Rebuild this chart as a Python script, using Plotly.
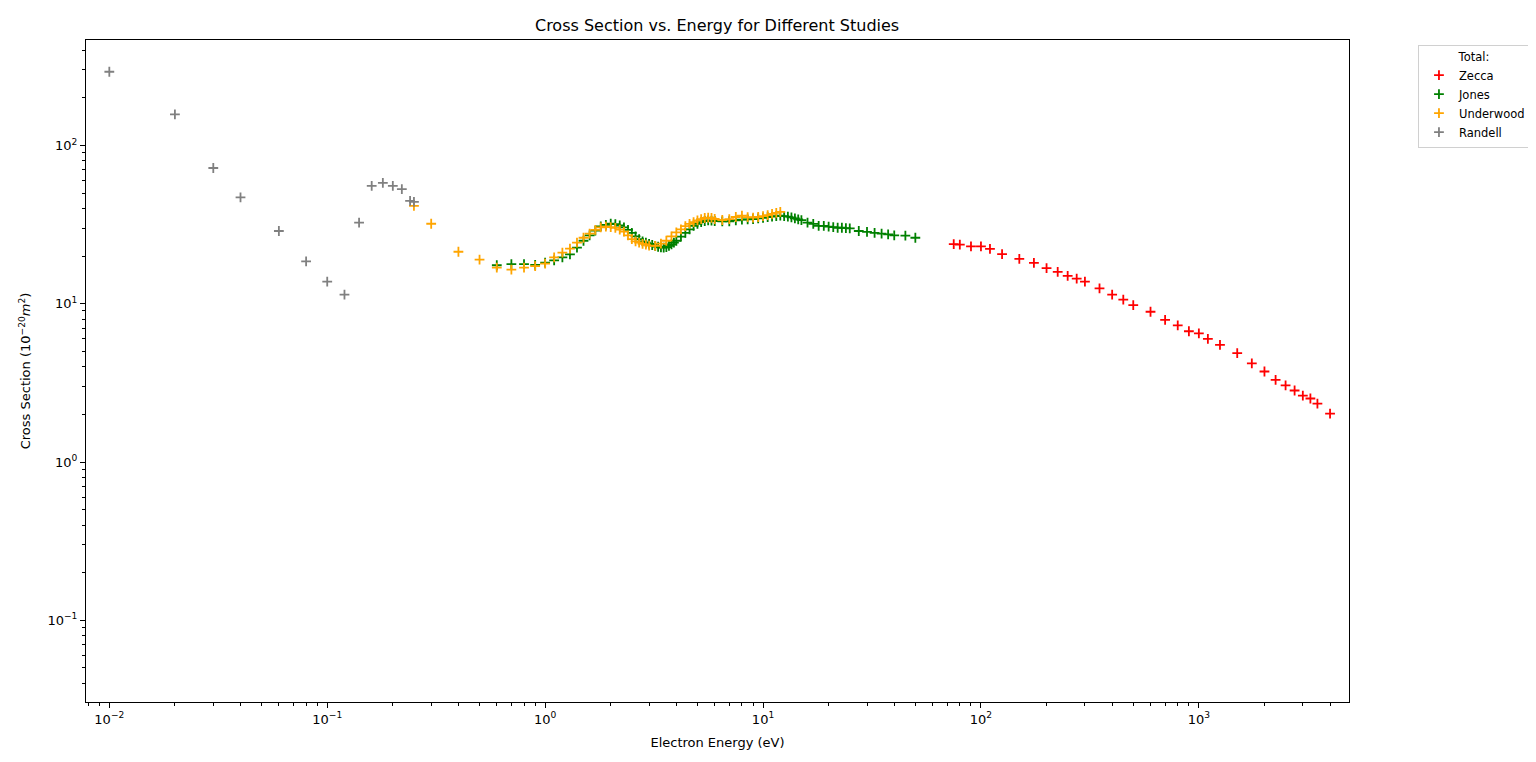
import plotly.graph_objects as go

# Randell (low energy)
randell_e = [0.01, 0.02, 0.03, 0.04, 0.06, 0.08, 0.1, 0.12, 0.14, 0.16, 0.18, 0.2, 0.22, 0.24, 0.25]
randell_cs = [292, 157, 72, 47, 28.8, 18.5, 13.8, 11.4, 32.5, 55.5, 58, 55.5, 53, 44.7, 44]

# Underwood
underwood_e = [0.25, 0.3, 0.4, 0.5, 0.6, 0.7, 0.8, 0.9, 1.0, 1.1, 1.2, 1.3, 1.4, 1.5, 1.6, 1.7, 1.8,
               1.9, 2.0, 2.1, 2.2, 2.3, 2.4, 2.5, 2.6, 2.7, 2.8, 2.9, 3.0, 3.2, 3.4, 3.6, 3.8, 4.0,
               4.2, 4.4, 4.6, 4.8, 5.0, 5.2, 5.4, 5.6, 5.8, 6.0, 6.5, 7.0, 7.5, 8.0, 8.5, 9.0, 9.5,
               10, 10.5, 11, 11.5, 12]
underwood_cs = [41.5, 32, 21.3, 19, 16.9, 16.4, 16.9, 17.3, 17.9, 19.6, 21, 22.3, 24.3, 26.1, 27.7,
                29.3, 30.4, 30.7, 30.5, 30.1, 29.4, 28.5, 27, 25.6, 24.8, 24.3, 23.9, 23.6, 23.3,
                23.2, 24, 25, 26.6, 28.2, 29.5, 30.9, 31.9, 32.8, 33.6, 34.2, 34.8, 35, 34.9, 34.3,
                33.8, 34.2, 35.3, 36, 35.2, 35, 35.3, 35.8, 36.3, 36.9, 37.5, 38]

# Jones
jones_e = [0.6, 0.7, 0.8, 0.9, 1.0, 1.1, 1.2, 1.3, 1.4, 1.5, 1.6, 1.7, 1.8, 1.9, 2.0, 2.1, 2.2, 2.3,
           2.4, 2.5, 2.6, 2.7, 2.8, 2.9, 3.0, 3.1, 3.2, 3.3, 3.4, 3.5, 3.6, 3.7, 3.8, 3.9, 4.0, 4.2,
           4.4, 4.6, 4.8, 5.0, 5.2, 5.4, 5.6, 5.8, 6.0, 6.5, 7.0, 7.5, 8.0, 8.5, 9.0, 9.5, 10, 10.5,
           11, 11.5, 12, 12.5, 13, 13.5, 14, 14.5, 15, 16, 17, 18, 19, 20, 21, 22, 23, 24, 25,
           27.5, 30, 32.5, 35, 37.5, 40, 45, 50]
jones_cs = [17.5, 17.8, 17.8, 17.6, 18.2, 18.8, 19.6, 20.5, 22.6, 25, 27, 29, 30.8, 31.5, 32, 31.8,
            31.2, 30.4, 29.3, 28, 26.6, 25.6, 24.8, 24.3, 23.9, 23.5, 23.2, 22.9, 22.7, 22.6, 22.8,
            23.2, 23.7, 24.3, 25, 26.5, 28, 29.5, 31, 32, 32.8, 33.3, 33.6, 33.5, 33.3, 33.1, 33.2,
            33.6, 34, 34.1, 34.3, 34.6, 34.9, 35.2, 35.5, 35.8, 36, 35.8, 35.5, 35.1, 34.6, 34.1,
            33.7, 32.5, 31.9, 31, 31, 30.7, 30.5, 30.2, 30.2, 30, 29.9, 28.8, 28.4, 28, 27.7, 27.4,
            27, 26.9, 26.1]

# Zecca (high energy)
zecca_e = [75, 80, 90, 100, 110, 125, 150, 175, 200, 225, 250, 275, 300, 350, 400, 450, 500, 600,
           700, 800, 900, 1000, 1100, 1250, 1500, 1750, 2000, 2250, 2500, 2750, 3000, 3250, 3500, 4000]
zecca_cs = [23.8, 23.6, 23.0, 23.0, 22.2, 20.6, 19.2, 18.1, 16.8, 15.9, 15.0, 14.4, 13.8, 12.5, 11.4,
            10.6, 9.8, 8.9, 7.9, 7.3, 6.7, 6.5, 6.0, 5.5, 4.87, 4.2, 3.73, 3.3, 3.05, 2.83, 2.63,
            2.52, 2.34, 2.02]

x_tickvals = [0.01, 0.1, 1, 10, 100, 1000]
x_ticktext = ["10<sup>−2</sup>", "10<sup>−1</sup>", "10<sup>0</sup>", "10<sup>1</sup>",
              "10<sup>2</sup>", "10<sup>3</sup>"]
y_tickvals = [0.1, 1, 10, 100]
y_ticktext = ["10<sup>−1</sup>", "10<sup>0</sup>", "10<sup>1</sup>", "10<sup>2</sup>"]

studies = [
    ("Zecca", zecca_e, zecca_cs, "red"),
    ("Jones", jones_e, jones_cs, "green"),
    ("Underwood", underwood_e, underwood_cs, "orange"),
    ("Randell", randell_e, randell_cs, "gray"),
]

fig = go.Figure()
for name, e, cs, col in studies:
    fig.add_trace(go.Scatter(
        x=e, y=cs, mode="markers", name=name,
        marker=dict(symbol="cross-thin", size=7, line=dict(width=1.8, color=col), color=col),
    ))

# minor log ticks (2..9 in every decade)
def minors(lo, hi):
    out = []
    d = lo
    while d < hi:
        for k in range(2, 10):
            out.append(k * d)
        d *= 10
    return out

axis_common = dict(
    type="log", showgrid=False, zeroline=False, showline=True, linecolor="black", linewidth=1,
    mirror=True, ticks="outside", ticklen=5, tickwidth=1, tickcolor="black", automargin=False,
    tickfont=dict(size=13, color="black"),
)

fig.update_xaxes(
    **axis_common, range=[-2.107, 3.689], tickmode="array", tickvals=x_tickvals, ticktext=x_ticktext,
    minor=dict(tickmode="array", tickvals=minors(0.001, 10000), ticks="outside", ticklen=3,
               tickcolor="black", tickwidth=1),
    title=dict(text="Electron Energy (eV)", font=dict(size=13, color="black"), standoff=12),
)
fig.update_yaxes(
    **axis_common, range=[-1.516, 2.666], tickmode="array", tickvals=y_tickvals, ticktext=y_ticktext,
    minor=dict(tickmode="array", tickvals=minors(0.01, 1000), ticks="outside", ticklen=3,
               tickcolor="black", tickwidth=1),
    title=dict(text="Cross Section (10<sup>−20</sup><i>m</i><sup>2</sup>)",
               font=dict(size=13, color="black"), standoff=13),
)

# the page puts the figure 8px in from the top-left corner
fig.update_layout(
    width=1520, height=746,
    paper_bgcolor="white", plot_bgcolor="white",
    font=dict(family="DejaVu Sans", color="black"),
    margin=dict(l=78, r=179, t=32, b=52, autoexpand=False),
    title=dict(text="Cross Section vs. Energy for Different Studies", x=0.4665, xanchor="center",
               y=0.977, yanchor="middle", font=dict(size=16, color="black"), automargin=False),
    legend=dict(
        title=dict(text="Total:", side="top center", font=dict(size=11.5)),
        x=1.0546, y=0.993, xanchor="left", yanchor="top",
        font=dict(size=11.5), bordercolor="#d0d0d0", borderwidth=1, bgcolor="white",
        tracegroupgap=0,
    ),
)

fig.write_html("out.html")
